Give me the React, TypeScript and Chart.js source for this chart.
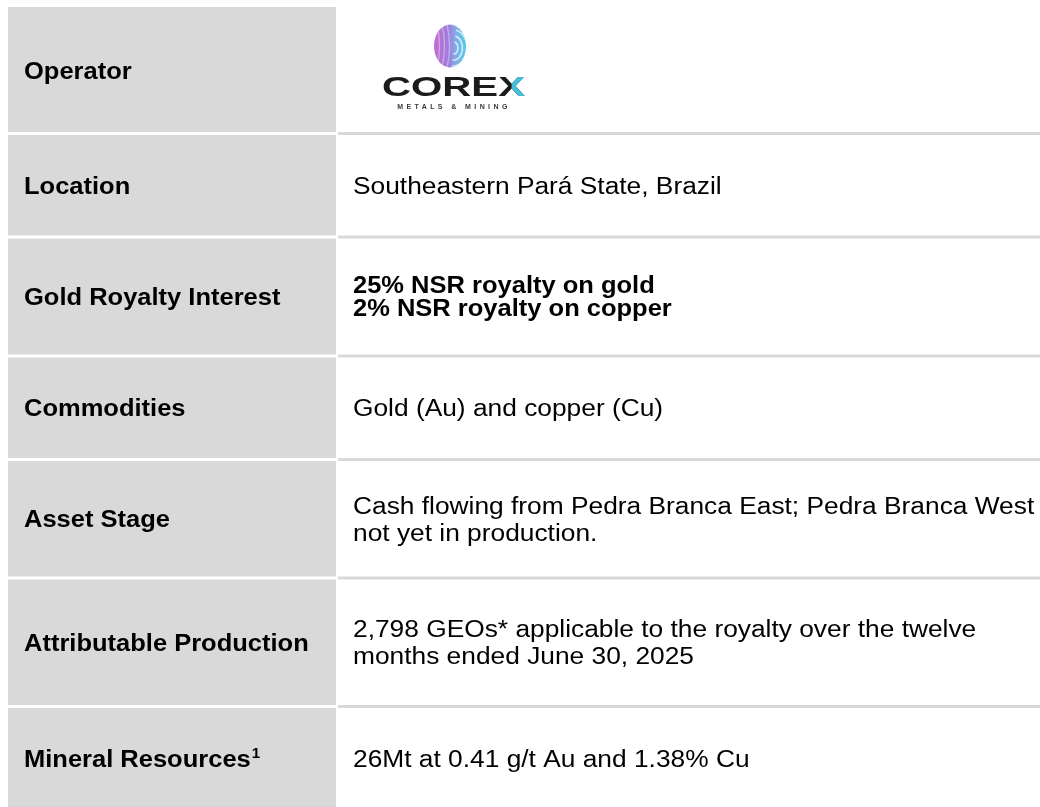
import React, { useEffect, useRef } from "react";
import { Chart, registerables } from "chart.js";

Chart.register(...registerables);

// ---- table content ----
const rowLabels: string[] = [
  "Operator",
  "Location",
  "Gold Royalty Interest",
  "Commodities",
  "Asset Stage",
  "Attributable Production",
  "Mineral Resources",
];
const labelSuperscripts: string[] = ["", "", "", "", "", "", "1"];
const rowValues: string[][] = [
  [],
  ["Southeastern Pará State, Brazil"],
  ["25% NSR royalty on gold", "2% NSR royalty on copper"],
  ["Gold (Au) and copper (Cu)"],
  ["Cash flowing from Pedra Branca East; Pedra Branca West", "not yet in production."],
  ["2,798 GEOs* applicable to the royalty over the twelve", "months ended June 30, 2025"],
  ["26Mt at 0.41 g/t Au and 1.38% Cu"],
];
const valueBold: boolean[] = [false, false, true, false, false, false, false];
const logoName = "COREX";
const logoTagline = "METALS & MINING";

// ---- layout (page units, mapped through the chart scales) ----
const PAGE_W = 1040;
const PAGE_H = 807;
const ROW_EDGES = [7, 133.5, 237, 356, 459.5, 578, 706.5, 830];
const LABEL_COL = [8, 336];
const VALUE_COL = [338, 1040];
const GAP = 3;
const LABEL_X = 24;
const VALUE_X = 353;
const FONT_PX = 23.5;
const LINE_H = 27;
const LINE_H_BOLD = 23;
const SX_REG = 1.12;
const SX_BOLD = 1.085;
const FONT = '"Liberation Sans", Arial, sans-serif';
const CELL_GRAY = "#d9d9d9";

function stretchedText(ctx: CanvasRenderingContext2D, text: string, x: number, y: number, sx: number) {
  ctx.save();
  ctx.translate(x, y);
  ctx.scale(sx, 1);
  ctx.fillText(text, 0, 0);
  ctx.restore();
  return ctx.measureText(text).width * sx;
}

const tablePlugin = {
  id: "tablePlugin",
  afterDraw(chart: any) {
    const { ctx } = chart;
    const xs = chart.scales.x;
    const ys = chart.scales.y;
    const X = (v: number) => xs.getPixelForValue(v);
    const Y = (v: number) => ys.getPixelForValue(v);
    ctx.save();
    ctx.fillStyle = "#ffffff";
    ctx.fillRect(0, 0, chart.width, chart.height);

    rowLabels.forEach((label, i) => {
      const top = ROW_EDGES[i] + (i === 0 ? 0 : GAP / 2);
      const bot = ROW_EDGES[i + 1] - GAP / 2;
      ctx.fillStyle = CELL_GRAY;
      ctx.fillRect(X(LABEL_COL[0]), Y(top), X(LABEL_COL[1]) - X(LABEL_COL[0]), Y(bot) - Y(top));
      if (i > 0) {
        ctx.fillRect(
          X(VALUE_COL[0]),
          Y(ROW_EDGES[i] - GAP / 2),
          X(VALUE_COL[1]) - X(VALUE_COL[0]),
          Y(ROW_EDGES[i] + GAP / 2) - Y(ROW_EDGES[i] - GAP / 2)
        );
      }
      const last = i === rowLabels.length - 1;
      const mid = last ? (ROW_EDGES[i] + PAGE_H) / 2 + 2 : (ROW_EDGES[i] + ROW_EDGES[i + 1]) / 2;
      const cy = Y(mid + 2);
      ctx.fillStyle = "#000000";
      ctx.textBaseline = "middle";
      ctx.textAlign = "left";
      ctx.font = `bold ${FONT_PX}px ${FONT}`;
      const w = stretchedText(ctx, label, X(LABEL_X), cy, SX_BOLD);
      if (labelSuperscripts[i]) {
        ctx.font = `bold 14px ${FONT}`;
        stretchedText(ctx, labelSuperscripts[i], X(LABEL_X) + w + 1, cy - 7, SX_BOLD);
      }
      const lines = rowValues[i];
      const bold = valueBold[i];
      ctx.font = `${bold ? "bold " : ""}${FONT_PX}px ${FONT}`;
      const lh = bold ? LINE_H_BOLD : LINE_H;
      lines.forEach((ln, k) => {
        const off = (k - (lines.length - 1) / 2) * lh;
        stretchedText(ctx, ln, X(VALUE_X), cy + off, bold ? SX_BOLD : SX_REG);
      });
    });

    drawLogo(ctx, X(450), Y(46));
    ctx.restore();
  },
};

function drawLogo(ctx: CanvasRenderingContext2D, cx: number, cy: number) {
  const rx = 16;
  const ry = 21.5;
  ctx.save();
  ctx.beginPath();
  ctx.ellipse(cx, cy, rx, ry, 0, 0, Math.PI * 2);
  const g = ctx.createLinearGradient(cx - rx, cy, cx + rx, cy);
  g.addColorStop(0, "#c46cd2");
  g.addColorStop(0.45, "#a07ddc");
  g.addColorStop(0.7, "#7fb0e6");
  g.addColorStop(1, "#4ccbe8");
  ctx.fillStyle = g;
  ctx.fill();
  ctx.clip();
  ctx.strokeStyle = "rgba(255,255,255,0.7)";
  ctx.lineWidth = 1.6;
  for (let k = 0; k < 5; k++) {
    ctx.beginPath();
    ctx.ellipse(cx + 4, cy + 2, 4 + k * 4.5, 6 + k * 6, 0, -Math.PI * 0.45, Math.PI * 0.55);
    ctx.stroke();
  }
  ctx.strokeStyle = "rgba(255,255,255,0.4)";
  ctx.lineWidth = 1.2;
  for (let k = 0; k < 3; k++) {
    ctx.beginPath();
    ctx.moveTo(cx - rx + 3 + k * 5, cy - ry);
    ctx.quadraticCurveTo(cx - rx + 8 + k * 5, cy, cx - rx + 3 + k * 5, cy + ry);
    ctx.stroke();
  }
  ctx.restore();

  ctx.save();
  ctx.font = `bold 29px ${FONT}`;
  ctx.textBaseline = "alphabetic";
  ctx.textAlign = "left";
  const targetW = 143;
  const w = ctx.measureText(logoName).width;
  const sx = targetW / w;
  const left = cx - 68;
  const base = cy + 50;
  ctx.translate(left, base);
  ctx.scale(sx, 0.95);
  ctx.fillStyle = "#1b1b1b";
  ctx.fillText(logoName, 0, 0);
  const wX = ctx.measureText("X").width;
  ctx.beginPath();
  ctx.rect(w - wX / 2, -20, wX, 20);
  ctx.clip();
  ctx.fillStyle = "#45bfdc";
  ctx.fillText(logoName, 0, 0);
  ctx.restore();

  ctx.save();
  ctx.font = `bold 7px ${FONT}`;
  ctx.fillStyle = "#3a3a3a";
  ctx.textBaseline = "middle";
  ctx.textAlign = "center";
  (ctx as any).letterSpacing = "3.4px";
  ctx.fillText(logoTagline, cx + 4, cy + 61);
  ctx.restore();
}

export default function App() {
  const ref = useRef<HTMLCanvasElement | null>(null);
  useEffect(() => {
    if (!ref.current) return;
    const chart = new Chart(ref.current, {
      type: "scatter",
      data: { datasets: [{ data: [], pointRadius: 0 }] },
      options: {
        animation: false,
        responsive: true,
        maintainAspectRatio: false,
        layout: { padding: 0 },
        plugins: { legend: { display: false }, tooltip: { enabled: false } },
        events: [],
        scales: {
          x: { type: "linear", min: 0, max: PAGE_W, display: false },
          y: { type: "linear", min: 0, max: PAGE_H, reverse: true, display: false },
        },
      },
      plugins: [tablePlugin],
    });
    return () => chart.destroy();
  }, []);
  return (
    <div style={{ position: "fixed", left: 0, top: 0, width: PAGE_W, height: PAGE_H, background: "#fff" }}>
      <canvas ref={ref} />
    </div>
  );
}
